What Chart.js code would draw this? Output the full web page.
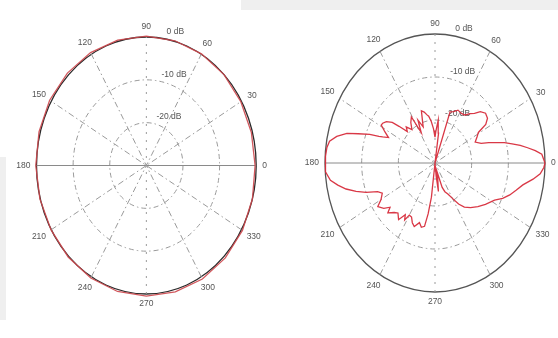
<!DOCTYPE html>
<html>
<head>
<meta charset="utf-8">
<script src="https://cdn.jsdelivr.net/npm/chart.js@4.4.1/dist/chart.umd.min.js"></script>
<style>
  html, body { margin: 0; padding: 0; background: #ffffff; }
  body { width: 558px; height: 338px; position: relative; overflow: hidden; }
  #barTop { position: absolute; left: 241px; top: 0; width: 317px; height: 10px; background: #efefef; }
  #barLeft { position: absolute; left: 0; top: 157px; width: 6px; height: 163px; background: #efefef; }
  canvas { position: absolute; top: 0; }
  #cLeft { left: 0; }
  #cRight { left: 279px; }
</style>
</head>
<body>
<div id="barTop"></div>
<div id="barLeft"></div>
<canvas id="cLeft" width="279" height="338"></canvas>
<canvas id="cRight" width="279" height="338"></canvas>
<script>
// ---- data (dB scale, centre = -30 dB) ----
const MIN_DB = -30;
const RING_TICKS = [0, -10, -20];
const RING_LABELS = ['0 dB', '-10 dB', '-20 dB'];
const SPOKE_ANGLES = [0, 30, 60, 90, 120, 150];
const ANGLE_TICKS = [0, 30, 60, 90, 120, 150, 180, 210, 240, 270, 300, 330];
const ANGLE_LABELS = ['0', '30', '60', '90', '120', '150', '180', '210', '240', '270', '300', '330'];

// left pattern: nearly omnidirectional
const leftAngles = [0, 15, 30, 45, 60, 75, 90, 105, 120, 135, 150, 165, 180, 195, 210, 225, 240, 255, 270, 285, 300, 315, 330, 345];
const leftGain   = [-0.3, -0.3, -0.2, 0, 0.1, 0.15, 0.2, 0.3, 0.45, 0.5, 0.5, 0.35, 0.2, 0.1, 0.05, 0.2, 0.35, 0.45, 0.5, 0.55, 0.6, 0.5, 0.3, 0];

// right pattern: two main lobes at 0 and 180 deg
const rightAngles = [0, 4, 6, 8, 10, 12, 14, 16, 18, 20, 24, 28, 31, 33, 36, 40, 44, 47, 50, 54, 58, 63, 67, 71, 73, 79, 82, 85, 88, 90, 93, 96, 99,
  101, 104, 107, 111, 115, 118, 121, 125, 129, 133, 136, 139, 141, 144, 147, 149, 152, 155, 157, 158, 159.5, 162, 164, 167, 170, 173, 177,
  180, 184, 188, 191, 194, 197, 200, 203, 206, 210, 213, 217, 220, 222, 226, 229, 233, 236, 238, 240, 243, 246, 249, 253, 256, 259, 261, 263, 265,
  274, 276, 278, 281, 285, 289, 292, 296, 300, 304, 308, 313, 319, 325, 332, 336, 340, 344, 348, 352, 355, 358];
const rightGain = [0, -0.8, -2.5, -4.5, -6.4, -8.5, -10.5, -12.8, -14.6, -16.6, -18, -17, -16.2, -13.5, -12.3, -12, -12.8, -14.2, -15, -16.2, -16.4, -16.2, -17, -17.4, -30, -30, -23, -20, -22.5, -24, -22, -20.3, -19,
  -18.6, -17.8, -17.3, -21, -19, -22, -17.5, -18.5, -20, -18.5, -19.5, -17, -15, -13.6, -13, -12.9, -14.5, -16, -14.5, -13.5, -11, -8, -5, -2.5, -0.8, -0.3, -0.1,
  0, -0.2, -1.2, -3, -5, -7.5, -10, -13, -14, -13, -11.4, -12.5, -14, -12.7, -14, -14.6, -13.5, -15.5, -14.4, -16, -15.9, -14.8, -14.2, -15.5, -14.6, -15, -18, -22, -30,
  -30, -27, -23.3, -26, -28, -24, -22.8, -22, -20.5, -18.5, -17, -15.8, -14.5, -13.2, -11.6, -9.8, -8.3, -7, -5.5, -3, -1.2, -0.3];

// ---- helpers ----
function toPoints(angles, gains) {
  const pts = angles.map((a, i) => {
    const r = Math.max(gains[i], MIN_DB) - MIN_DB;
    const t = a * Math.PI / 180;
    return { x: r * Math.cos(t), y: r * Math.sin(t) };
  });
  pts.push(pts[0]);
  return pts;
}

const polarGrid = {
  id: 'polarGrid',
  beforeDatasetsDraw(chart, args, opts) {
    const ctx = chart.ctx;
    const xs = chart.scales.x, ys = chart.scales.y;
    const cx = xs.getPixelForValue(0), cy = ys.getPixelForValue(0);
    const kx = xs.getPixelForValue(1) - cx, ky = cy - ys.getPixelForValue(1);
    const R = -MIN_DB;
    ctx.save();
    // rings
    RING_TICKS.forEach(t => {
      const r = t - MIN_DB;
      ctx.beginPath();
      ctx.ellipse(cx, cy, r * kx, r * ky, 0, 0, Math.PI * 2);
      if (t === 0) { ctx.setLineDash([]); ctx.strokeStyle = opts.outerColor; ctx.lineWidth = 1.3; }
      else { ctx.setLineDash([5, 3, 1.5, 3]); ctx.strokeStyle = opts.gridColor; ctx.lineWidth = 1; }
      ctx.stroke();
    });
    // spokes
    SPOKE_ANGLES.forEach(a => {
      const t = a * Math.PI / 180;
      ctx.beginPath();
      ctx.moveTo(cx - R * kx * Math.cos(t), cy + R * ky * Math.sin(t));
      ctx.lineTo(cx + R * kx * Math.cos(t), cy - R * ky * Math.sin(t));
      if (a === 0) ctx.setLineDash([]);
      else if (a === 90) ctx.setLineDash([2, 6]);
      else ctx.setLineDash([6, 3, 1.5, 3]);
      ctx.strokeStyle = a === 0 ? opts.axisColor : opts.gridColor;
      ctx.lineWidth = 1;
      ctx.stroke();
    });
    ctx.setLineDash([]);
    // angle labels
    ctx.font = '8.5px "Liberation Sans", Arial, sans-serif';
    ctx.fillStyle = opts.textColor;
    ctx.textAlign = 'center';
    ctx.textBaseline = 'middle';
    ANGLE_TICKS.forEach((a, i) => {
      const t = a * Math.PI / 180;
      const c = Math.cos(t), s = Math.sin(t);
      const tw = ctx.measureText(ANGLE_LABELS[i]).width;
      const off = 6 + Math.abs(c) * tw / 2 + Math.abs(s) * 4;
      const px = cx + R * kx * c + c * off;
      const py = cy - R * ky * s - s * off;
      ctx.fillText(ANGLE_LABELS[i], px, py);
    });
    // ring labels
    ctx.textAlign = 'left';
    ctx.textBaseline = 'bottom';
    const t82 = 82 * Math.PI / 180;
    RING_TICKS.forEach((v, i) => {
      const r = v - MIN_DB + 0.5;
      ctx.fillText('  ' + RING_LABELS[i], cx + r * kx * Math.cos(t82), cy - r * ky * Math.sin(t82));
    });
    ctx.restore();
  }
};

function makeChart(id, angles, gains, pad, gridOpts) {
  return new Chart(document.getElementById(id), {
    type: 'scatter',
    data: {
      datasets: [{
        data: toPoints(angles, gains),
        showLine: true,
        borderColor: gridOpts.lineColor,
        borderWidth: 1.3,
        pointRadius: 0,
        fill: false,
        tension: 0,
        clip: false
      }]
    },
    options: {
      responsive: false,
      animation: false,
      events: [],
      layout: { padding: pad },
      plugins: {
        legend: { display: false },
        tooltip: { enabled: false },
        polarGrid: gridOpts
      },
      scales: {
        x: { type: 'linear', min: MIN_DB, max: -MIN_DB, display: false },
        y: { type: 'linear', min: MIN_DB, max: -MIN_DB, display: false }
      }
    },
    plugins: [polarGrid]
  });
}

makeChart('cLeft', leftAngles, leftGain,
  { left: 36.5, right: 22.8, top: 37, bottom: 44 },
  { outerColor: '#2a2a2a', gridColor: '#9a9a9a', axisColor: '#8a8a8a', textColor: '#555', lineColor: 'rgba(205,70,75,0.9)' });
makeChart('cRight', rightAngles, rightGain,
  { left: 46, right: 13, top: 34, bottom: 46 },
  { outerColor: '#555555', gridColor: '#9a9a9a', axisColor: '#8a8a8a', textColor: '#555', lineColor: 'rgba(215,45,60,0.95)' });
</script>
</body>
</html>
